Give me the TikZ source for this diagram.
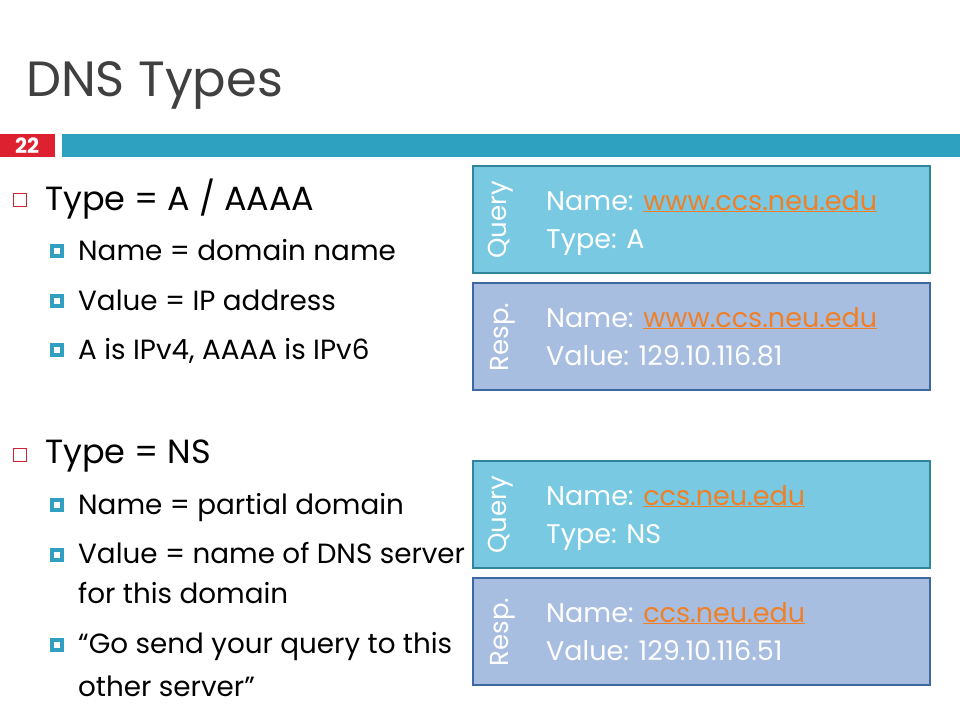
\documentclass[tikz,border=0pt]{standalone}
\usepackage{fontspec}
\setmainfont{Poppins}
\definecolor{titlegray}{RGB}{64,64,64}
\definecolor{numred}{RGB}{221,33,48}
\definecolor{barblue}{RGB}{46,160,192}
\definecolor{qfill}{RGB}{120,201,225}
\definecolor{qdraw}{RGB}{49,133,155}
\definecolor{rfill}{RGB}{168,190,224}
\definecolor{rdraw}{RGB}{62,104,160}
\definecolor{linkor}{RGB}{240,128,40}
\definecolor{bulred}{RGB}{205,35,50}
\definecolor{bulteal}{RGB}{49,160,192}
\tikzset{
  lvlone/.style={anchor=base west,inner sep=0pt,font=\fontsize{33.5}{38}\selectfont,text=black},
  lvltwo/.style={anchor=base west,inner sep=0pt,font=\fontsize{27.8}{32}\selectfont,text=black},
  boxtxt/.style={anchor=base west,inner sep=0pt,font=\fontsize{27}{32}\selectfont,text=white},
  sidelbl/.style={rotate=90,inner sep=0pt,font=\fontsize{26}{30}\selectfont,text=white},
  qbox/.style={draw=qdraw,fill=qfill,line width=2pt},
  rbox/.style={draw=rdraw,fill=rfill,line width=2pt},
  redbul/.style={draw=bulred,line width=1.4pt,minimum size=13pt,inner sep=0pt},
  tealbul/.style={fill=bulteal,minimum size=14.5pt,inner sep=0pt,path picture={\fill[white] ([xshift=-3pt,yshift=-3pt]path picture bounding box.center) rectangle ([xshift=3pt,yshift=3pt]path picture bounding box.center);}}
}
\newcommand{\lnk}[1]{\textcolor{linkor}{\underline{#1}}}
\begin{document}
\begin{tikzpicture}[x=1pt,y=-1pt]
\useasboundingbox[fill=white] (0,0) rectangle (960,720);
% title
\node[anchor=base west,inner sep=0pt,text=titlegray,font=\fontsize{49.5}{56}\selectfont] (title) at (26,96) {DNS Types};
% header bars
\fill[numred] (0,134) rectangle (55,157);
\fill[barblue] (62,134) rectangle (960,157);
\node[text=white,font=\fontsize{21}{24}\selectfont\bfseries,inner sep=0pt,anchor=base] (num) at (27,153) {22};
% left bullets
\node[redbul] (b1) at (20,200) {};
\node[lvlone] (t1) at (45,210) {Type = A / AAAA};
\node[tealbul] (s1) at (57,251) {};
\node[lvltwo] (t2) at (78,260) {Name = domain name};
\node[tealbul] (s2) at (57,301) {};
\node[lvltwo] (t3) at (78,310) {Value = IP address};
\node[tealbul] (s3) at (57,350) {};
\node[lvltwo] (t4) at (78,359) {A is IPv4, AAAA is IPv6};
\node[redbul] (b2) at (20,455) {};
\node[lvlone] (t5) at (45,463) {Type = NS};
\node[tealbul] (s4) at (57,505) {};
\node[lvltwo] (t6) at (78,514) {Name = partial domain};
\node[tealbul] (s5) at (57,555) {};
\node[lvltwo] (t7) at (78,563) {Value = name of DNS server};
\node[lvltwo] (t8) at (78,603) {for this domain};
\node[tealbul] (s6) at (57,645) {};
\node[lvltwo] (t9) at (78,653) {“Go send your query to this};
\node[lvltwo] (t10) at (78,696) {other server”};
% boxes
\draw[qbox] (473,166) rectangle (930,273);
\draw[rbox] (473,283) rectangle (930,390);
\draw[qbox] (473,461) rectangle (930,568);
\draw[rbox] (473,578) rectangle (930,685);
\node[sidelbl] (q1) at (501,220) {Query};
\node[sidelbl] (r1) at (503,337) {Resp.};
\node[sidelbl] (q2) at (501,515) {Query};
\node[sidelbl] (r2) at (503,632) {Resp.};
\node[boxtxt] (q1a) at (546,210) {Name: \lnk{www.ccs.neu.edu}};
\node[boxtxt] (q1b) at (546,248) {Type: A};
\node[boxtxt] (r1a) at (546,327) {Name: \lnk{www.ccs.neu.edu}};
\node[boxtxt] (r1b) at (546,365) {Value: 129.10.116.81};
\node[boxtxt] (q2a) at (546,505) {Name: \lnk{ccs.neu.edu}};
\node[boxtxt] (q2b) at (546,543) {Type: NS};
\node[boxtxt] (r2a) at (546,622) {Name: \lnk{ccs.neu.edu}};
\node[boxtxt] (r2b) at (546,660) {Value: 129.10.116.51};
\end{tikzpicture}
\end{document}
